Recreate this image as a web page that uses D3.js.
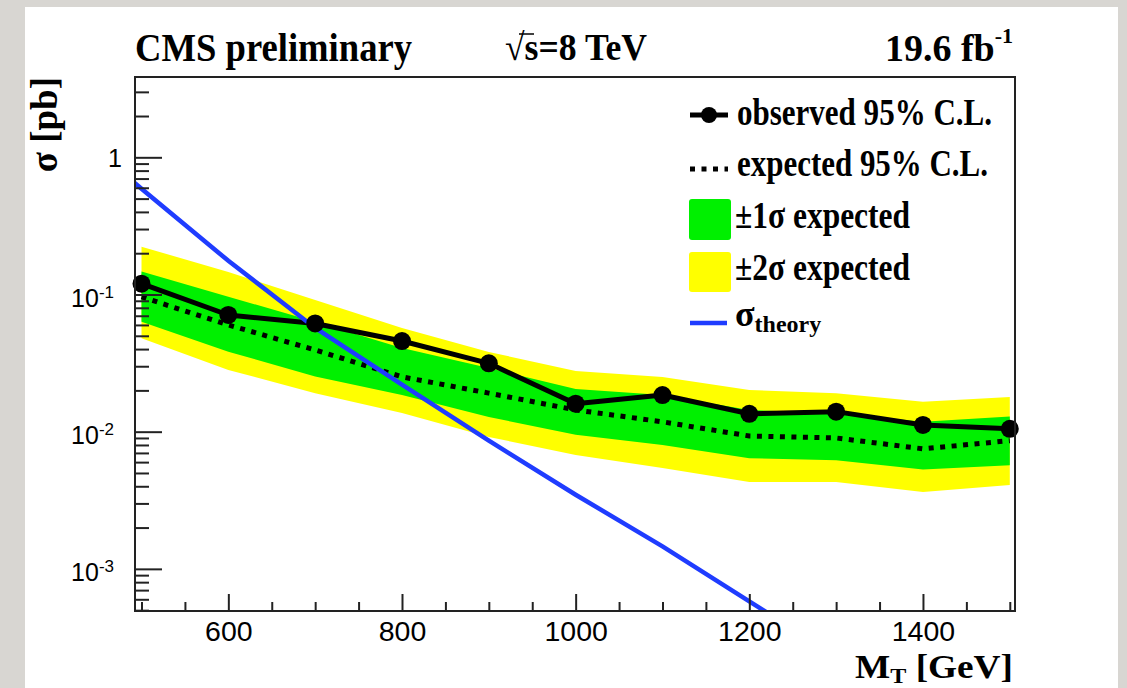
<!DOCTYPE html>
<html>
<head>
<meta charset="utf-8">
<script src="https://cdn.jsdelivr.net/npm/d3@7"></script>
<style>
  html, body { margin: 0; padding: 0; background: #d8d6d2; }
  svg { display: block; }
</style>
</head>
<body>
<svg id="chart" width="1127" height="688"></svg>
<script>
// Signal mass points [GeV]
const massPoints = [500, 600, 700, 800, 900, 1000, 1100, 1200, 1300, 1400, 1500];
// Observed 95% C.L. upper limit [pb]
const observed = [0.120, 0.0709, 0.0615, 0.0458, 0.0315, 0.0160, 0.0185, 0.0135, 0.0140, 0.0112, 0.0105];
// Expected 95% C.L. upper limit [pb]
const expected = [0.096, 0.060, 0.0394, 0.0251, 0.0191, 0.0144, 0.0118, 0.0093, 0.0090, 0.0075, 0.0086];
// ±1σ band on the expected limit
const oneSigmaUp   = [0.147, 0.0964, 0.0633, 0.0408, 0.0291, 0.0205, 0.0185, 0.0144, 0.0137, 0.0118, 0.0129];
const oneSigmaDown = [0.0633, 0.0383, 0.0252, 0.0185, 0.0128, 0.0095, 0.0080, 0.0064, 0.0062, 0.0053, 0.0057];
// ±2σ band on the expected limit
const twoSigmaUp   = [0.223, 0.146, 0.0912, 0.0570, 0.0381, 0.0277, 0.0250, 0.0201, 0.0191, 0.0165, 0.0179];
const twoSigmaDown = [0.0479, 0.0282, 0.0191, 0.0137, 0.00915, 0.00677, 0.00544, 0.0043, 0.0043, 0.00363, 0.00409];
// Theory cross section
const theoryMass = [450, 500, 600, 700, 800, 900, 1000, 1100, 1200, 1300];
const theoryXsec = [1.10, 0.59, 0.176, 0.057, 0.022, 0.0086, 0.00347, 0.00146, 0.00058, 0.00023];
// Axis ticks
const xMajorTicks = [600, 800, 1000, 1200, 1400];
const yDecades = [1e-3, 1e-2, 1e-1, 1];
const yDecadeLabels = [["10", "-3"], ["10", "-2"], ["10", "-1"], ["1", null]];

const svg = d3.select("#chart");
const frame = { left: 135, right: 1015, top: 77, bottom: 611 };

const x = d3.scaleLinear().domain([492.5, 1506]).range([frame.left, frame.right]);
const y = d3.scaleLog().domain([4.93e-4, 3.85]).range([frame.bottom, frame.top]);

// white canvas
svg.append("rect").attr("x", 25).attr("y", 7).attr("width", 1093).attr("height", 690)
  .attr("fill", "#ffffff");

const defs = svg.append("defs");
defs.append("clipPath").attr("id", "plotClip")
  .append("rect").attr("x", frame.left).attr("y", frame.top)
  .attr("width", frame.right - frame.left).attr("height", frame.bottom - frame.top);

const plot = svg.append("g").attr("clip-path", "url(#plotClip)");

const idx = d3.range(massPoints.length);
const band = (up, down) => d3.area()
  .x(i => x(massPoints[i])).y0(i => y(down[i])).y1(i => y(up[i]));

plot.append("path").datum(idx).attr("d", band(twoSigmaUp, twoSigmaDown))
  .attr("fill", "#ffff00");
plot.append("path").datum(idx).attr("d", band(oneSigmaUp, oneSigmaDown))
  .attr("fill", "#00f000");

plot.append("path").datum(idx)
  .attr("d", d3.line().x(i => x(massPoints[i])).y(i => y(expected[i])))
  .attr("fill", "none").attr("stroke", "#000").attr("stroke-width", 5)
  .attr("stroke-dasharray", "5,6.5");

plot.append("path").datum(idx)
  .attr("d", d3.line().x(i => x(massPoints[i])).y(i => y(observed[i])))
  .attr("fill", "none").attr("stroke", "#000").attr("stroke-width", 5)
  .attr("stroke-linejoin", "round");

svg.append("g").selectAll("circle").data(idx).join("circle")
  .attr("cx", i => x(massPoints[i])).attr("cy", i => y(observed[i]))
  .attr("r", 9).attr("fill", "#000");

plot.append("path").datum(d3.range(theoryMass.length))
  .attr("d", d3.line().x(i => x(theoryMass[i])).y(i => y(theoryXsec[i])))
  .attr("fill", "none").attr("stroke", "#1f3cff").attr("stroke-width", 4.5);

// axes
const axisColor = "#222";
const xMinor = d3.range(500, 1501, 50).filter(v => !xMajorTicks.includes(v));
svg.append("g").attr("transform", `translate(0,${frame.bottom})`)
  .call(d3.axisBottom(x).tickValues(xMinor).tickSizeInner(-9).tickSizeOuter(0).tickFormat(""));
const gx = svg.append("g").attr("transform", `translate(0,${frame.bottom})`)
  .call(d3.axisBottom(x).tickValues(xMajorTicks).tickSizeInner(-17).tickSizeOuter(0)
    .tickPadding(10).tickFormat(d3.format("d")));
gx.selectAll("text").attr("font-family", "Liberation Sans, Arial, sans-serif")
  .attr("font-size", 28.5).attr("fill", "#000");

const yMinor = [];
for (const d of [1e-4, 1e-3, 1e-2, 1e-1, 1]) {
  for (let m = 2; m <= 9; m++) {
    const v = m * d;
    if (v >= 4.93e-4 && v <= 3.85) yMinor.push(v);
  }
}
svg.append("g").attr("transform", `translate(${frame.left},0)`)
  .call(d3.axisLeft(y).tickValues(yMinor).tickSizeInner(-14).tickSizeOuter(0).tickFormat(""));
svg.append("g").attr("transform", `translate(${frame.left},0)`)
  .call(d3.axisLeft(y).tickValues(yDecades).tickSizeInner(-27).tickSizeOuter(0).tickFormat(""));

svg.selectAll(".domain").remove();
svg.selectAll(".tick line").attr("stroke", axisColor).attr("stroke-width", 2);

// frame
svg.append("rect").attr("x", frame.left).attr("y", frame.top)
  .attr("width", frame.right - frame.left).attr("height", frame.bottom - frame.top)
  .attr("fill", "none").attr("stroke", axisColor).attr("stroke-width", 2);

// y tick labels
yDecades.forEach((v, i) => {
  const [base, exp] = yDecadeLabels[i];
  const t = svg.append("text")
    .attr("x", exp ? 114 : 122).attr("y", y(v) + (exp ? 12.5 : 10))
    .attr("text-anchor", "end")
    .attr("font-family", "Liberation Sans, Arial, sans-serif").attr("fill", "#000");
  t.append("tspan").attr("font-size", 25).text(base);
  if (exp) t.append("tspan").attr("font-size", 17).attr("dy", -9).text(exp);
});

const serif = "Liberation Serif, Times New Roman, serif";

// header
svg.append("text").attr("x", 135).attr("y", 61).attr("font-family", serif)
  .attr("font-weight", "bold").attr("font-size", 39)
  .attr("textLength", 277).attr("lengthAdjust", "spacingAndGlyphs")
  .text("CMS preliminary");
svg.append("text").attr("x", 505).attr("y", 60).attr("font-family", serif)
  .attr("font-weight", "bold").attr("font-size", 38)
  .attr("textLength", 142).attr("lengthAdjust", "spacingAndGlyphs")
  .text("√s=8 TeV");
svg.append("line").attr("x1", 519).attr("x2", 534).attr("y1", 34).attr("y2", 34)
  .attr("stroke", "#000").attr("stroke-width", 1.5);
const lumi = svg.append("text").attr("x", 1013).attr("y", 61).attr("text-anchor", "end")
  .attr("font-family", serif).attr("font-weight", "bold").attr("fill", "#000");
lumi.append("tspan").attr("font-size", 38).text("19.6 fb");
lumi.append("tspan").attr("font-size", 22).attr("dy", -18).text("-1");

// axis titles
svg.append("text").attr("transform", "translate(57,77) rotate(-90)")
  .attr("text-anchor", "end").attr("font-family", serif).attr("font-weight", "bold")
  .attr("font-size", 37).text("σ [pb]");
const xt = svg.append("text").attr("x", 1013).attr("y", 678).attr("text-anchor", "end")
  .attr("font-family", serif).attr("font-weight", "bold").attr("font-size", 34)
  .attr("textLength", 158).attr("lengthAdjust", "spacingAndGlyphs");
xt.append("tspan").text("M");
xt.append("tspan").attr("font-size", 22).attr("dy", 5).text("T");
xt.append("tspan").attr("dy", -5).text(" [GeV]");

// legend
const legend = svg.append("g");
const lx0 = 690, lx1 = 728, tx = 737;
const legendFont = sel => sel.attr("font-family", serif).attr("font-weight", "bold")
  .attr("font-size", 38).attr("lengthAdjust", "spacingAndGlyphs");

legend.append("line").attr("x1", lx0).attr("x2", lx1).attr("y1", 115).attr("y2", 115)
  .attr("stroke", "#000").attr("stroke-width", 5);
legend.append("circle").attr("cx", (lx0 + lx1) / 2).attr("cy", 115).attr("r", 8);
legend.append("text").attr("x", tx).attr("y", 125).call(legendFont)
  .attr("textLength", 255).text("observed 95% C.L.");

legend.append("line").attr("x1", lx0).attr("x2", lx1).attr("y1", 169).attr("y2", 169)
  .attr("stroke", "#000").attr("stroke-width", 5).attr("stroke-dasharray", "5,6.5");
legend.append("text").attr("x", tx).attr("y", 176).call(legendFont)
  .attr("textLength", 251).text("expected 95% C.L.");

legend.append("rect").attr("x", 689).attr("y", 199).attr("width", 42).attr("height", 41)
  .attr("rx", 3).attr("fill", "#00f000");
legend.append("text").attr("x", 735).attr("y", 228).call(legendFont)
  .attr("textLength", 175).text("±1σ expected");

legend.append("rect").attr("x", 689).attr("y", 252).attr("width", 42).attr("height", 40)
  .attr("rx", 3).attr("fill", "#ffff00");
legend.append("text").attr("x", 735).attr("y", 280).call(legendFont)
  .attr("textLength", 175).text("±2σ expected");

legend.append("line").attr("x1", lx0).attr("x2", 727).attr("y1", 323).attr("y2", 323)
  .attr("stroke", "#1f3cff").attr("stroke-width", 4.5);
const th = legend.append("text").attr("x", 735).attr("y", 326)
  .attr("font-family", serif).attr("font-weight", "bold");
th.append("tspan").attr("font-size", 36).text("σ");
th.append("tspan").attr("font-size", 24).attr("dy", 6).text("theory");
</script>
</body>
</html>
